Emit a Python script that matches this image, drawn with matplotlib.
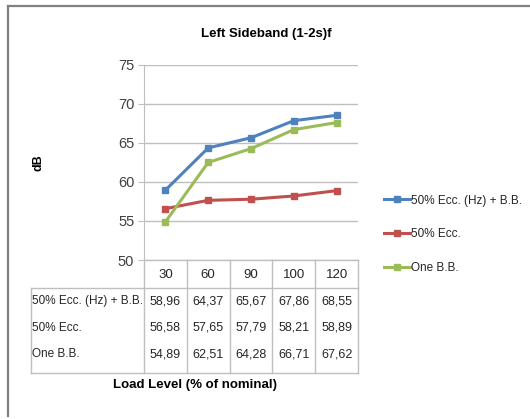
import matplotlib.pyplot as plt
from matplotlib.lines import Line2D
from matplotlib.transforms import blended_transform_factory

plt.rcParams['font.family'] = ['Liberation Sans', 'DejaVu Sans']

# load levels and measured sideband amplitudes (dB)
loads = ['30', '60', '90', '100', '120']
ecc_hz_bb = [58.96, 64.37, 65.67, 67.86, 68.55]
ecc_50 = [56.58, 57.65, 57.79, 58.21, 58.89]
one_bb = [54.89, 62.51, 64.28, 66.71, 67.62]
series_names = ['50% Ecc. (Hz) + B.B.', '50% Ecc.', 'One B.B.']
colors = ['#4F81BD', '#C0504D', '#9BBB59']

W, H = 530, 419
fig = plt.figure(figsize=(W / 100, H / 100), dpi=100)

# plot area in pixel terms
x0, x1, ytop, ybot = 144, 358, 65, 260
ax = fig.add_axes([x0 / W, 1 - ybot / H, (x1 - x0) / W, (ybot - ytop) / H])

xs = range(len(loads))
for vals, name, c in zip([ecc_hz_bb, ecc_50, one_bb], series_names, colors):
    ax.plot(xs, vals, color=c, lw=2.2, marker='s', ms=5, label=name)

ax.set_xlim(-0.5, len(loads) - 0.5)
ax.set_ylim(50, 75)
ax.set_yticks([50, 55, 60, 65, 70, 75])
ax.set_xticks([])
ax.grid(axis='y', color='#BFBFBF', lw=1)
ax.set_axisbelow(True)
for s in ['top', 'right', 'bottom']:
    ax.spines[s].set_visible(False)
ax.spines['left'].set_color('#BFBFBF')
ax.tick_params(axis='y', length=4, color='#BFBFBF', labelsize=10.5, labelcolor='#404040', pad=3)
ax.set_ylabel('dB', fontsize=9, fontweight='bold', labelpad=53)

ax.set_title('Left Sideband (1-2s)f', fontsize=9.5, fontweight='bold', pad=20, x=0.57)

# data table under the axis
tr = blended_transform_factory(ax.transData, ax.transAxes)


def ya(ypix):
    return (ybot - ypix) / (ybot - ytop)


gc = '#BFBFBF'
left_edge = -3.14
right_edge = len(loads) - 0.5
header_bot = ya(288)
table_bot = ya(373)
kw = dict(transform=tr, clip_on=False, color=gc, lw=1)
ax.plot([-0.5, right_edge], [0, 0], **kw)
ax.plot([left_edge, right_edge], [header_bot, header_bot], **kw)
ax.plot([left_edge, right_edge], [table_bot, table_bot], **kw)
ax.plot([left_edge, left_edge], [header_bot, table_bot], **kw)
for i in range(len(loads) + 1):
    ax.plot([i - 0.5, i - 0.5], [0, table_bot], **kw)

fs = 8.5
for i, lab in enumerate(loads):
    ax.text(i, ya(275), lab, transform=tr, ha='center', va='center', fontsize=9.5, color='#262626')

row_y = [301, 328, 354]
for vals, name, yp in zip([ecc_hz_bb, ecc_50, one_bb], series_names, row_y):
    ax.text(left_edge + 0.03, ya(yp), name, transform=tr, ha='left', va='center',
            fontsize=fs, color='#262626')
    for i, v in enumerate(vals):
        ax.text(i, ya(yp), f'{v:.2f}'.replace('.', ','), transform=tr, ha='center',
                va='center', fontsize=9, color='#262626')

fig.text(195 / W, 1 - 385 / H, 'Load Level (% of nominal)', ha='center', va='center',
         fontsize=9.5, fontweight='bold')

# legend on the right
handles = [Line2D([], [], color=c, lw=2.2, marker='s', ms=5) for c in colors]
fig.legend(handles, series_names, loc='upper left', bbox_to_anchor=(373 / W, 1 - 184 / H),
           frameon=False, fontsize=fs, handlelength=2.2, handletextpad=0.1,
           labelspacing=1.85, labelcolor='#262626')

# outer chart border
fig.add_artist(Line2D([7.5 / W, 1], [1 - 6.5 / H, 1 - 6.5 / H], color='#808080', lw=1.6))
fig.add_artist(Line2D([7.5 / W, 7.5 / W], [1 - 6.5 / H, 1 - 416 / H], color='#808080', lw=1.6))

fig.savefig('out.png', dpi=100)
